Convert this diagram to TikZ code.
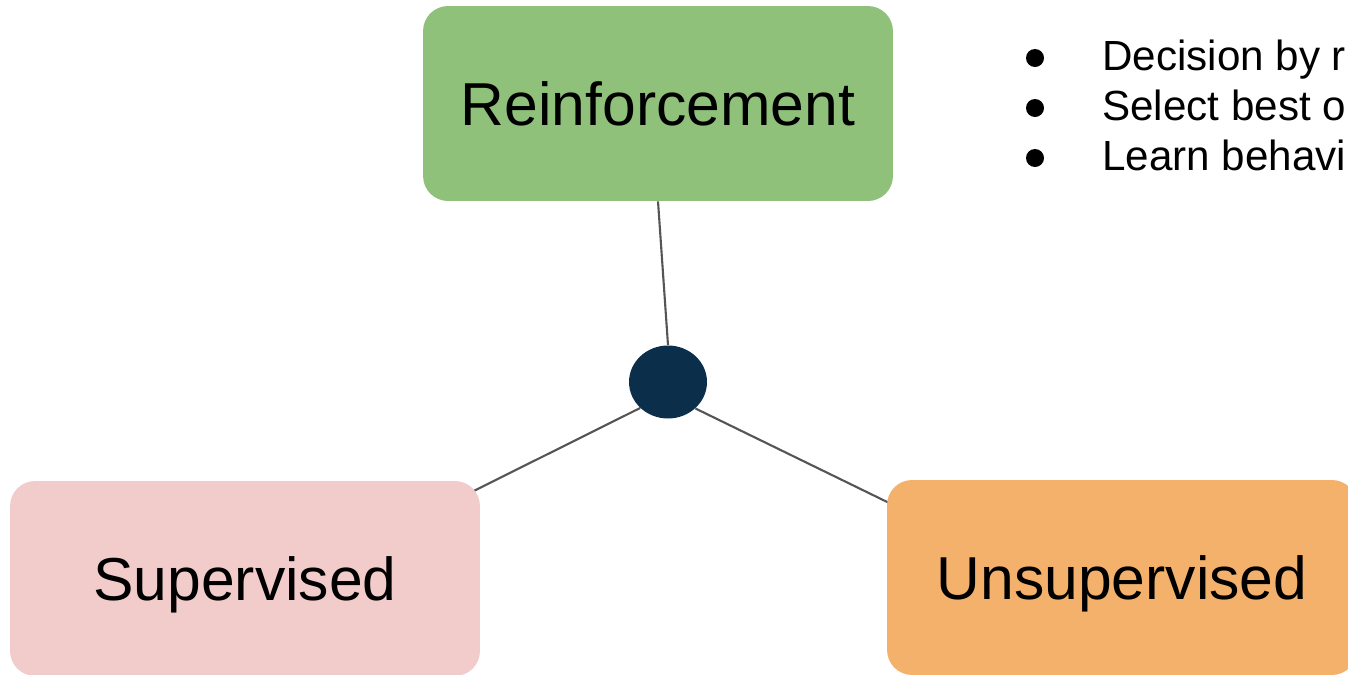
\documentclass[tikz,border=0pt]{standalone}
\usepackage{fontspec}
\setmainfont{Liberation Sans}
\usetikzlibrary{shapes.geometric,calc,backgrounds}

\definecolor{reinfgreen}{HTML}{8FC17A}
\definecolor{suppink}{HTML}{F2CCCB}
\definecolor{unsuporange}{HTML}{F4B16B}
\definecolor{hubnavy}{HTML}{0B2F4A}
\definecolor{linkgray}{HTML}{555555}

\begin{document}
\begin{tikzpicture}[x=0.02cm,y=-0.02cm]
		\tikzset{learnbox/.style={rounded corners=0.5cm, minimum width=9.4cm, minimum height=3.9cm, inner sep=0pt, text height=24.7pt, text depth=0pt, font=\fontsize{34.5}{40}\selectfont},
			link/.style={draw=linkgray, line width=1.2pt},
			bulletdot/.style={circle, fill=black, minimum size=0.36cm, inner sep=0pt},
			itemtext/.style={anchor=base west, inner sep=0pt, font=\fontsize{24}{28}\selectfont}};
		\useasboundingbox (0,0) rectangle (1348,674);
		\clip (0,0) rectangle (1348,674);
		\node[learnbox, fill=reinfgreen] (reinf) at (658,103.5) {Reinforcement};
		\node[learnbox, fill=suppink] (sup) at (245,578.5) {Supervised};
		\node[learnbox, fill=unsuporange] (unsup) at (1122,577.5) {Unsupervised};
		\node[ellipse, fill=hubnavy, minimum width=1.56cm, minimum height=1.46cm, inner sep=0pt] (hub) at (668,382) {};
		\begin{scope}[on background layer]
			\draw[link] (reinf.south) -- (hub.north);
			\draw[link] (hub.223) -- ($(sup.north east)+(-8,11)$);
			\draw[link] (hub.316) -- ($(unsup.north west)+(6,25)$);
		\end{scope}
		\foreach \txt [count=\i] in {Decision by r, Select best o, Learn behavi} {
			\node[bulletdot] (dot\i) at (1035,{8+50*\i}) {};
			\node[itemtext] (item\i) at (1102,{20+50*\i}) {\txt};
		}
	\end{tikzpicture}
\end{document}
